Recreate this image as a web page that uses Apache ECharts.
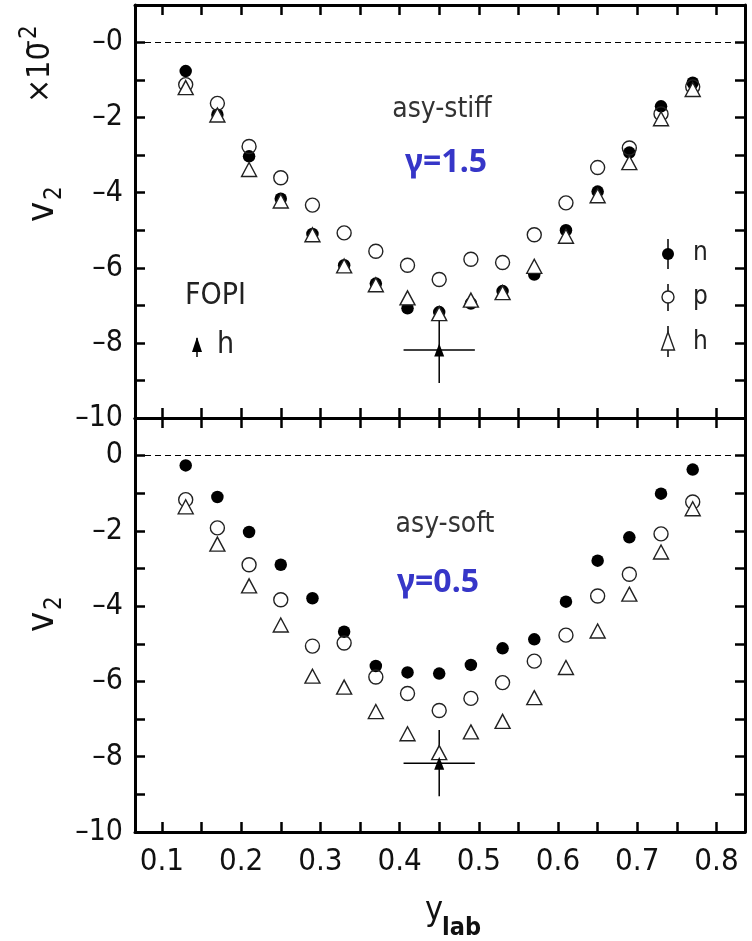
<!DOCTYPE html>
<html><head><meta charset="utf-8">
<script src="https://cdn.jsdelivr.net/npm/echarts@6/dist/echarts.min.js"></script>
<style>html,body{margin:0;padding:0;background:#fff}#c{width:752px;height:941px}</style>
</head><body><div id="c"></div>
<script>
// ---- data ----
const yLab = [0.13, 0.17, 0.21, 0.25, 0.29, 0.33, 0.37, 0.41, 0.45, 0.49, 0.53, 0.57, 0.61, 0.65, 0.69, 0.73, 0.77];
// asy-stiff (gamma = 1.5), v2 in units of 1e-2
const stiffN = [-0.76, -1.92, -3.03, -4.16, -5.10, -5.93, -6.42, -7.08, -7.18, -6.95, -6.62, -6.18, -5.00, -3.97, -2.93, -1.70, -1.07];
const stiffP = [-1.12, -1.62, -2.77, -3.60, -4.33, -5.07, -5.56, -5.93, -6.31, -5.77, -5.86, -5.12, -4.27, -3.33, -2.81, -1.90, -1.18];
const stiffH = [-1.20, -1.93, -3.38, -4.22, -5.12, -5.95, -6.45, -6.80, -7.22, -6.86, -6.66, -5.96, -5.16, -4.08, -3.20, -2.03, -1.25];
// asy-soft (gamma = 0.5)
const softN = [-0.26, -1.10, -2.03, -2.90, -3.79, -4.68, -5.59, -5.76, -5.79, -5.56, -5.12, -4.88, -3.88, -2.79, -2.17, -1.01, -0.37];
const softP = [-1.17, -1.92, -2.90, -3.83, -5.06, -4.98, -5.88, -6.32, -6.77, -6.45, -6.03, -5.46, -4.77, -3.73, -3.15, -2.08, -1.23];
const softH = [-1.36, -2.35, -3.46, -4.50, -5.86, -6.15, -6.80, -7.39, -7.89, -7.34, -7.06, -6.43, -5.63, -4.66, -3.68, -2.56, -1.41];
// FOPI measurement (h): [y_lab, v2, x error, v2 error]
const fopiStiff = [[0.45, -8.19, 0.045, 0.88]];
const fopiSoft = [[0.45, -8.17, 0.045, 0.88]];
// axis ticks
const xRange = [0.066, 0.836];
const xStep = 0.05;
const yRange = [-10, 1];
const yStep = 1;

const FONT = '"Liberation Sans Narrow","DejaVu Sans Condensed","Roboto Condensed",sans-serif';
const BLUE = '#3636c8';

const pairs = (ys) => yLab.map((x, i) => [x, ys[i]]);
const isTenth = v => Math.abs(v * 10 - Math.round(v * 10)) < 1e-6;

function xAxisCfg(gridIndex, position, showLabels) {
  return {
    type: 'value', gridIndex, position, min: xRange[0], max: xRange[1],
    splitNumber: 15, minInterval: xStep, maxInterval: xStep,
    axisLine: {show: true, onZero: false, lineStyle: {color: '#000', width: 3}},
    axisTick: {show: true, inside: true, length: 10, lineStyle: {color: '#000', width: 2.5}},
    axisLabel: {show: showLabels, margin: 14, fontSize: 31, fontFamily: FONT, color: '#111',
      formatter: v => isTenth(v) && v > 0.09 && v < 0.81 ? v.toFixed(1) : ''},
    splitLine: {show: false}
  };
}
function yAxisCfg(gridIndex, position, fmt) {
  return {
    type: 'value', gridIndex, position, min: yRange[0], max: yRange[1], interval: yStep,
    axisLine: {show: true, onZero: false, lineStyle: {color: '#000', width: 3}},
    axisTick: {show: true, inside: true, length: 10, lineStyle: {color: '#000', width: 2.5}},
    axisLabel: fmt ? {show: true, margin: 12, fontSize: 30, fontFamily: FONT, color: '#111', formatter: fmt} : {show: false},
    splitLine: {show: false}
  };
}
const topFmt = v => (v <= 0 && v % 2 === 0) ? '\u2013' + Math.abs(v) : '';
const botFmt = v => (v <= 0 && v % 2 === 0) ? (v === 0 ? '0' : '\u2013' + Math.abs(v)) : '';

function errSeries(xi, yi, data) {
  return {
    type: 'custom', xAxisIndex: xi, yAxisIndex: yi, data, encode: {x: 0, y: 1}, silent: true,
    renderItem: (params, api) => {
      const x = api.value(0), y = api.value(1), xe = api.value(2), ye = api.value(3);
      const l = api.coord([x - xe, y]), r = api.coord([x + xe, y]);
      const t = api.coord([x, y + ye]), b = api.coord([x, y - ye]);
      return {type: 'group', children: [
        {type: 'line', shape: {x1: l[0], y1: l[1], x2: r[0], y2: r[1]}, style: {stroke: '#000', lineWidth: 1.5}},
        {type: 'line', shape: {x1: t[0], y1: t[1], x2: b[0], y2: b[1]}, style: {stroke: '#000', lineWidth: 1.5}}
      ]};
    }
  };
}
function panelSeries(xi, yi, n, p, h, fopi) {
  return [
    errSeries(xi, yi, fopi),
    {type: 'scatter', xAxisIndex: xi, yAxisIndex: yi, data: pairs(n), symbol: 'circle', symbolSize: 12.5,
      itemStyle: {color: '#000', opacity: 1}, silent: true,
      markLine: {silent: true, symbol: 'none', label: {show: false},
        lineStyle: {color: '#000', type: [6, 4], width: 1}, data: [{yAxis: 0}]}},
    {type: 'scatter', xAxisIndex: xi, yAxisIndex: yi, data: pairs(p), symbol: 'circle', symbolSize: 14,
      itemStyle: {color: 'rgba(255,255,255,0)', borderColor: '#222', borderWidth: 1.4, opacity: 1}, silent: true},
    {type: 'scatter', xAxisIndex: xi, yAxisIndex: yi, data: pairs(h), symbol: 'triangle', symbolSize: [15, 14],
      itemStyle: {color: '#fff', borderColor: '#222', borderWidth: 1.4, opacity: 1}, silent: true},
    {type: 'scatter', xAxisIndex: xi, yAxisIndex: yi, data: fopi.map(d => [d[0], d[1]]), symbol: 'triangle', symbolSize: [10, 13],
      itemStyle: {color: '#000', opacity: 1}, silent: true}
  ];
}

const txt = (x, y, text, font, fill, align, vAlign) => ({
  type: 'text', x, y, silent: true,
  style: {text, font, fill, textAlign: align || 'center', textVerticalAlign: vAlign || 'middle', align: align || 'center', verticalAlign: vAlign || 'middle'}
});
const vTitle = (x, y) => ({type: 'group', x, y, rotation: Math.PI / 2, children: [
  txt(0, 0, 'v', '38px ' + FONT, '#111', 'left'),
  txt(22, 12, '2', '24px ' + FONT, '#111', 'left')
]});

const graphic = [
  // y axis titles
  {type: 'group', x: 41, y: 103, rotation: Math.PI / 2, children: [
    txt(0, 0, '\u00d710', '32px ' + FONT, '#111', 'left'),
    txt(46, -11, '\u22122', '24px ' + FONT, '#111', 'left')
  ]},
  vTitle(43, 222),
  vTitle(43, 632),
  // x axis title
  txt(425, 911, 'y', '34px ' + FONT, '#111', 'left'),
  txt(442, 928, 'lab', 'bold 25px ' + FONT, '#111', 'left'),
  // annotations top
  txt(442, 110, 'asy-stiff', '28px ' + FONT, '#333'),
  txt(446, 163, '\u03b3=1.5', 'bold 32px "Noto Sans", sans-serif', BLUE),
  txt(185, 296, 'FOPI', '30px ' + FONT, '#222', 'left'),
  // annotations bottom
  txt(445, 525, 'asy-soft', '28px ' + FONT, '#333'),
  txt(438, 583, '\u03b3=0.5', 'bold 32px "Noto Sans", sans-serif', BLUE),
  // legend n p h
  {type: 'line', shape: {x1: 668, y1: 239, x2: 668, y2: 269}, style: {stroke: '#000', lineWidth: 1.5}},
  {type: 'circle', shape: {cx: 668, cy: 254, r: 6}, style: {fill: '#000'}},
  txt(693, 253, 'n', '26px ' + FONT, '#222', 'left'),
  {type: 'line', shape: {x1: 668, y1: 284, x2: 668, y2: 311}, style: {stroke: '#000', lineWidth: 1.5}},
  {type: 'circle', shape: {cx: 668, cy: 297, r: 6}, style: {fill: '#fff', stroke: '#222', lineWidth: 1.4}},
  txt(693, 297, 'p', '26px ' + FONT, '#222', 'left'),
  {type: 'line', shape: {x1: 668, y1: 326, x2: 668, y2: 357}, style: {stroke: '#000', lineWidth: 1.5}},
  {type: 'polygon', shape: {points: [[668, 332], [661.5, 350], [674.5, 350]]}, style: {fill: '#fff', stroke: '#222', lineWidth: 1.4}},
  txt(693, 342, 'h', '26px ' + FONT, '#222', 'left'),
  // FOPI legend
  {type: 'line', shape: {x1: 197, y1: 338, x2: 197, y2: 357}, style: {stroke: '#000', lineWidth: 1.5}},
  {type: 'polygon', shape: {points: [[197, 337], [192, 352], [202, 352]]}, style: {fill: '#000'}},
  txt(217, 345, 'h', '30px ' + FONT, '#222', 'left')
];

const chart = echarts.init(document.getElementById('c'), null, {renderer: 'canvas'});
chart.setOption({
  backgroundColor: '#fff',
  animation: false,
  grid: [
    {left: 135, right: 7, top: 5, height: 413},
    {left: 135, right: 7, top: 418, height: 414}
  ],
  xAxis: [
    xAxisCfg(0, 'bottom', false), xAxisCfg(0, 'top', false),
    xAxisCfg(1, 'bottom', true), xAxisCfg(1, 'top', false)
  ],
  yAxis: [
    yAxisCfg(0, 'left', topFmt), yAxisCfg(0, 'right', null),
    yAxisCfg(1, 'left', botFmt), yAxisCfg(1, 'right', null)
  ],
  series: [
    ...panelSeries(0, 0, stiffN, stiffP, stiffH, fopiStiff),
    ...panelSeries(2, 2, softN, softP, softH, fopiSoft)
  ],
  graphic
});
</script>
</body></html>
